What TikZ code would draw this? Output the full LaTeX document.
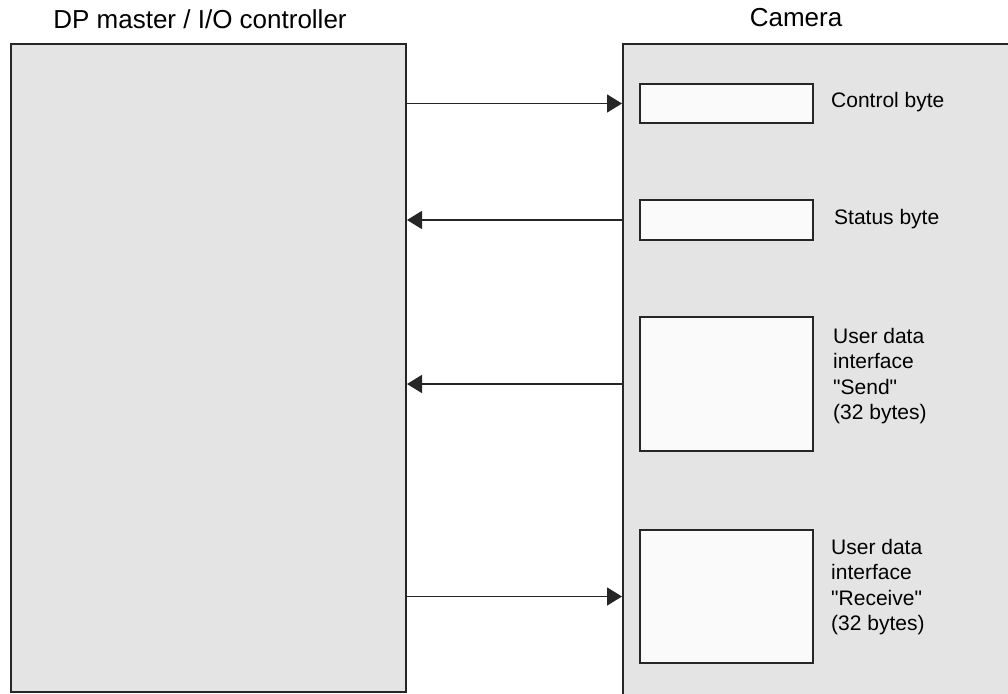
\documentclass[tikz,border=0pt]{standalone}
\usepackage{fontspec}
\setmainfont{Liberation Sans}
\usetikzlibrary{arrows.meta,positioning}
\definecolor{panelgray}{RGB}{228,228,228}
\definecolor{slotwhite}{RGB}{250,250,250}
\definecolor{edgegray}{RGB}{38,38,38}

\begin{document}
\begin{tikzpicture}[x=1pt,y=-1pt,
    panel/.style={draw=edgegray,line width=2pt,fill=panelgray,inner sep=0pt,anchor=north west},
    slot/.style={draw=edgegray,line width=2pt,fill=slotwhite,inner sep=0pt,anchor=north west,minimum width=173pt},
    heading/.style={font=\fontsize{26}{30}\selectfont},
    tag/.style={font=\fontsize{21}{25.5}\selectfont,align=left,inner sep=0pt},
    flow/.style={draw=edgegray,line width=1.6pt,-{Triangle[length=15pt,width=18pt]}}]
    \clip (0,0) rectangle (1008,693);
    \fill[white] (0,0) rectangle (1008,693);
    % the two devices
    \node[panel,minimum width=395pt,minimum height=648pt] (master) at (10,43) {};
    \node[panel,minimum width=420pt,minimum height=680pt] (camera) at (622,43) {};
    \node[heading] (mastername) at (200,19) {DP master / I/O controller};
    \node[heading] (cameraname) at (796,18) {Camera};
    % data areas in the camera
    \foreach \name/\top/\high in {ctrl/83/39pt,status/199/40pt,send/316/134pt,recv/529/133pt} {
        \node[slot,minimum height=\high] (\name) at (639,\top) {};
    }
    \node[tag,anchor=west] (ctrltxt) at ([xshift=17pt,yshift=1pt]ctrl.east) {Control byte};
    \node[tag,anchor=west] (statustxt) at ([xshift=20pt,yshift=1pt]status.east) {Status byte};
    \node[tag,anchor=north west] (sendtxt) at ([xshift=19pt,yshift=-12pt]send.north east)
        {User data\\interface\\\textquotedbl Send\textquotedbl\\(32 bytes)};
    \node[tag,anchor=north west] (recvtxt) at ([xshift=17pt,yshift=-10pt]recv.north east)
        {User data\\interface\\\textquotedbl Receive\textquotedbl\\(32 bytes)};
    % exchange
    \draw[flow] (master.east |- ctrl.west) -- (camera.west |- ctrl.west);
    \draw[flow] (camera.west |- status.west) -- (master.east |- status.west);
    \draw[flow] (camera.west |- send.west) -- (master.east |- send.west);
    \draw[flow] (master.east |- recv.west) -- (camera.west |- recv.west);
\end{tikzpicture}
\end{document}
